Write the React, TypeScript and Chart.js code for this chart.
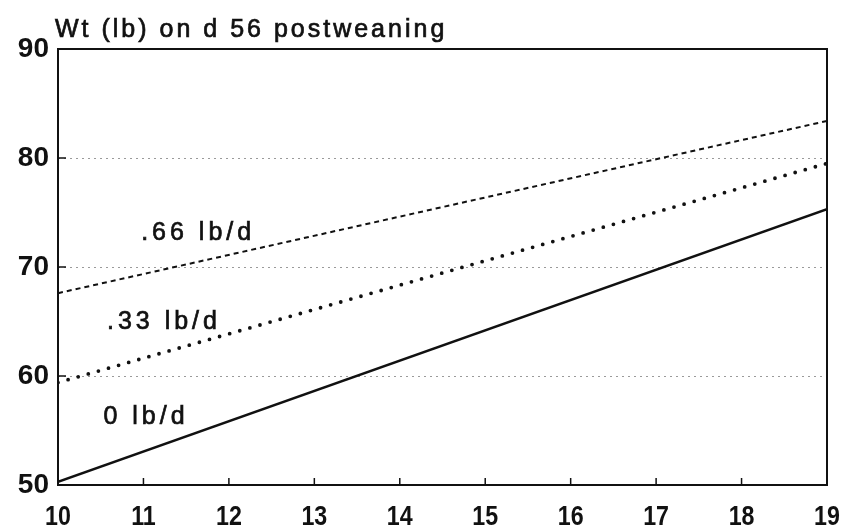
import { useEffect, useRef } from 'react';
import { Chart, registerables } from 'chart.js';

Chart.register(...registerables);

// ---- data ----
const xPoints = [10, 19];
const series0 = [50.3, 75.3];
const series33 = [59.4, 79.5];
const series66 = [67.6, 83.4];
const seriesNames = ['0 lb/d', '.33 lb/d', '.66 lb/d'];
// label anchors in data units (x, y)
const labelX = [11.03, 11.24, 11.64];
const labelY = [56.2, 64.95, 73.1];
const gridValues = [60, 70, 80];
const titleText = 'Wt (lb) on d 56 postweaning';
const xMin = 10;
const xMax = 19;
const yMin = 50;
const yMax = 90;

const toPts = (ys: number[]) => xPoints.map((x, i) => ({ x, y: ys[i] }));

const FONT = "'Liberation Sans', Arial, sans-serif";

const decorPlugin = {
  id: 'decor',
  afterDraw(chart: any) {
    const { ctx, chartArea: a, scales } = chart;
    const xs = scales.x;
    const ys = scales.y;
    ctx.save();
    // box
    ctx.strokeStyle = '#111';
    ctx.lineWidth = 2;
    ctx.setLineDash([]);
    ctx.strokeRect(a.left, a.top, a.right - a.left, a.bottom - a.top);
    // inward ticks
    ctx.lineWidth = 1.5;
    xs.ticks.forEach((t: any) => {
      if (t.value <= xMin || t.value >= xMax) return;
      const px = xs.getPixelForValue(t.value);
      ctx.beginPath();
      ctx.moveTo(px, a.bottom);
      ctx.lineTo(px, a.bottom - 7);
      ctx.stroke();
    });
    gridValues.forEach((v) => {
      const py = ys.getPixelForValue(v);
      ctx.beginPath();
      ctx.moveTo(a.left, py);
      ctx.lineTo(a.left + 8, py);
      ctx.stroke();
    });
    // x tick labels (slightly condensed)
    ctx.fillStyle = '#111';
    ctx.font = `bold 27px ${FONT}`;
    ctx.textAlign = 'center';
    ctx.textBaseline = 'middle';
    xs.ticks.forEach((t: any) => {
      const px = xs.getPixelForValue(t.value);
      ctx.save();
      ctx.translate(px, a.bottom + 33);
      ctx.scale(0.86, 1);
      ctx.fillText(String(t.label ?? t.value), 0, 0);
      ctx.restore();
    });
    // title
    ctx.strokeStyle = '#111';
    ctx.lineWidth = 0.7;
    ctx.font = `25px ${FONT}`;
    (ctx as any).letterSpacing = '3px';
    ctx.textAlign = 'left';
    ctx.textBaseline = 'middle';
    ctx.fillText(titleText, a.left - 3, 30);
    ctx.strokeText(titleText, a.left - 3, 30);
    // series labels
    (ctx as any).letterSpacing = '4px';
    ctx.textAlign = 'center';
    seriesNames.forEach((n, i) => {
      const px = xs.getPixelForValue(labelX[i]);
      const py = ys.getPixelForValue(labelY[i]);
      ctx.fillText(n, px, py);
      ctx.strokeText(n, px, py);
    });
    (ctx as any).letterSpacing = '0px';
    ctx.restore();
  },
};

export default function App() {
  const ref = useRef<HTMLCanvasElement>(null);
  useEffect(() => {
    if (!ref.current) return;
    const chart = new Chart(ref.current, {
      type: 'line',
      data: {
        datasets: [
          {
            label: seriesNames[0],
            data: toPts(series0),
            borderColor: '#111',
            borderWidth: 2.5,
            pointRadius: 0,
            fill: false,
          },
          {
            label: seriesNames[1],
            data: toPts(series33),
            borderColor: '#111',
            borderWidth: 3.8,
            borderDash: [0, 10.5],
            borderCapStyle: 'round',
            pointRadius: 0,
            fill: false,
          },
          {
            label: seriesNames[2],
            data: toPts(series66),
            borderColor: '#111',
            borderWidth: 2,
            borderDash: [5, 4],
            pointRadius: 0,
            fill: false,
          },
        ],
      },
      plugins: [decorPlugin],
      options: {
        responsive: false,
        animation: false,
        layout: { padding: { top: 49, right: 15, left: 0, bottom: 0 } },
        plugins: { legend: { display: false }, tooltip: { enabled: false }, title: { display: false } },
        scales: {
          x: {
            type: 'linear',
            min: xMin,
            max: xMax,
            afterFit: (s: any) => {
              s.height = 46;
              s.paddingLeft = 0;
              s.paddingRight = 0;
            },
            ticks: {
              stepSize: 1,
              display: false,
            },
            grid: { display: false, drawTicks: false },
            border: { display: false },
          },
          y: {
            type: 'linear',
            min: yMin,
            max: yMax,
            afterFit: (s: any) => {
              s.width = 58;
              s.paddingTop = 0;
              s.paddingBottom = 0;
            },
            ticks: {
              stepSize: 10,
              color: '#111',
              padding: 9,
              font: { family: FONT, size: 28, weight: 'bold' },
            },
            grid: {
              drawTicks: false,
              lineWidth: 1,
              color: (c: any) => (gridValues.includes(c.tick?.value) ? '#9a9a9a' : 'rgba(0,0,0,0)'),
            },
            border: { display: false, dash: [2, 4] },
          },
        },
      },
    });
    return () => chart.destroy();
  }, []);
  return (
    <div style={{ position: 'fixed', left: 0, top: 0, width: 842, height: 531, background: '#fff' }}>
      <canvas ref={ref} width={842} height={531} />
    </div>
  );
}
